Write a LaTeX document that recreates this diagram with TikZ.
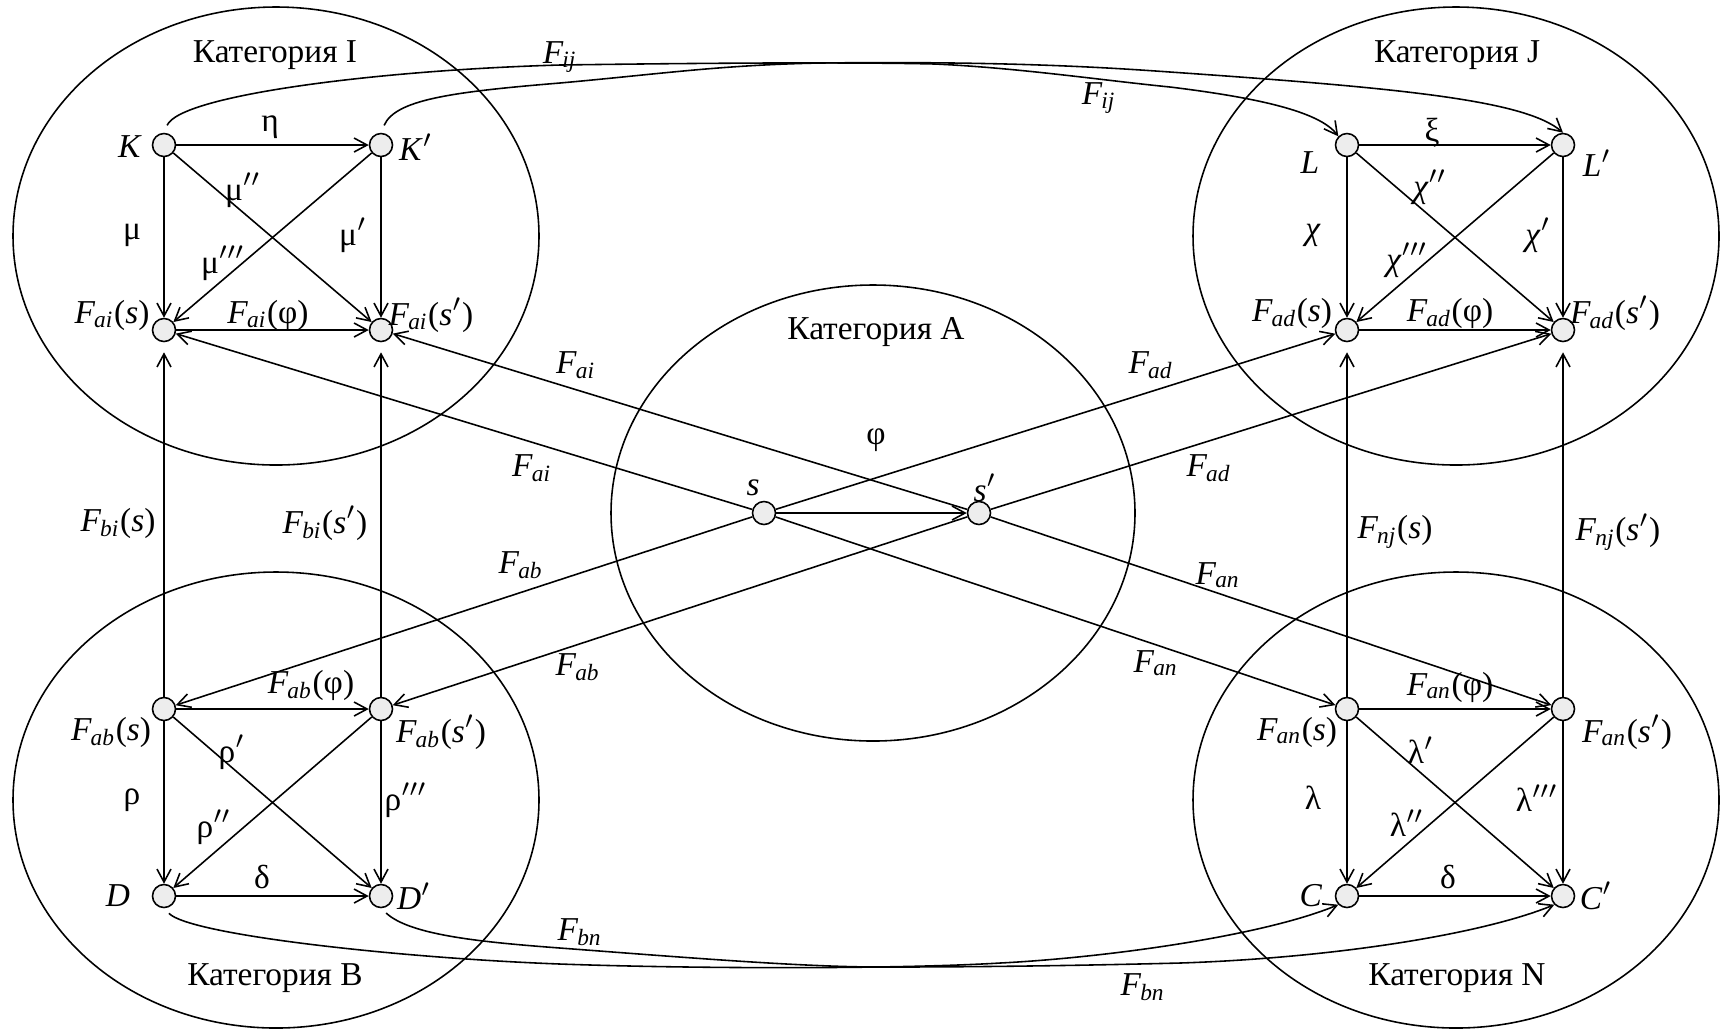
\documentclass[tikz,border=0pt]{standalone}
\usepackage{fontspec}
\setmainfont{Liberation Serif}
\usetikzlibrary{arrows.meta}
\newcommand{\Fsub}[1]{\textit{F}\kern-0.3pt\textsubscript{\textit{#1}}}

\begin{document}
\begin{tikzpicture}[x=0.1mm,y=-0.1mm,line width=0.45pt,
    font=\fontsize{9.5}{11}\selectfont,
    obj/.style={circle,draw,fill=black!7,minimum size=2.3mm,inner sep=0pt},
    lbl/.style={inner sep=0.5pt},
    arr/.style={-{Straight Barb[length=1.3mm,width=1.4mm]}},
    fun/.style={arr,shorten >=1mm}]
  \useasboundingbox (0,0) rectangle (1725,1031);
  % categories
  \draw (276,236) ellipse [x radius=263, y radius=229];
  \draw (1456,236) ellipse [x radius=263, y radius=229];
  \draw (873,513) ellipse [x radius=262, y radius=228];
  \draw (276,800) ellipse [x radius=263, y radius=228];
  \draw (1456,800) ellipse [x radius=263, y radius=228];
  \node (catI) at (275,55) {Категория I};
  \node (catJ) at (1457,55) {Категория J};
  \node (catA) at (876,332) {Категория A};
  \node (catB) at (275,978) {Категория B};
  \node (catN) at (1457,978) {Категория N};

  % category I
  \node[obj] (K) at (164,145) {};
  \node[obj] (Kp) at (381,145) {};
  \node[obj] (ais) at (164,330) {};
  \node[obj] (aisp) at (381,330) {};
  \draw[arr] (K) -- (Kp);
  \draw[arr] (K) -- (ais);
  \draw[arr] (Kp) -- (aisp);
  \draw[arr] (K) -- (aisp);
  \draw[arr] (Kp) -- (ais);
  \draw[arr] (ais) -- (aisp);
  \node[lbl] (tK) at (130,147) {\textit{K}};
  \node[lbl] (tKp) at (416,147) {\textit{K}$'$};
  \node[lbl] (tEta) at (270,127) {η};
  \node[lbl] (tMu2) at (243,190) {μ$''$};
  \node[lbl] (tMu) at (132,235) {μ};
  \node[lbl] (tMu1) at (353,235) {μ$'$};
  \node[lbl] (tMu3) at (223,263) {μ$'''$};
  \node[lbl] (tais) at (112,315) {\Fsub{ai}(\textit{s})};
  \node[lbl] (taiphi) at (268,315) {\Fsub{ai}(φ)};
  \node[lbl] (taisp) at (431,315) {\Fsub{ai}(\textit{s}$'$)};

  % category J
  \node[obj] (L) at (1347,145) {};
  \node[obj] (Lp) at (1563,145) {};
  \node[obj] (ads) at (1347,330) {};
  \node[obj] (adsp) at (1563,330) {};
  \draw[arr] (L) -- (Lp);
  \draw[arr] (L) -- (ads);
  \draw[arr] (Lp) -- (adsp);
  \draw[arr] (L) -- (adsp);
  \draw[arr] (Lp) -- (ads);
  \draw[arr] (ads) -- (adsp);
  \node[lbl] (tL) at (1310,163) {\textit{L}};
  \node[lbl] (tLp) at (1597,163) {\textit{L}$'$};
  \node[lbl] (tXi) at (1432,133) {ξ};
  \node[lbl] (tChi2) at (1430,187) {\textit{χ}$''$};
  \node[lbl] (tChi) at (1313,235) {\textit{χ}};
  \node[lbl] (tChi1) at (1538,235) {\textit{χ}$'$};
  \node[lbl] (tChi3) at (1407,260) {\textit{χ}$'''$};
  \node[lbl] (tads) at (1292,313) {\Fsub{ad}(\textit{s})};
  \node[lbl] (tadphi) at (1450,313) {\Fsub{ad}(φ)};
  \node[lbl] (tadsp) at (1615,313) {\Fsub{ad}(\textit{s}$'$)};

  % category A
  \node[obj] (s) at (764,513) {};
  \node[obj] (sp) at (979,513) {};
  \draw[arr] (s) -- (sp);
  \node[lbl] (ts) at (753,488) {\textit{s}};
  \node[lbl] (tsp) at (985,488) {\textit{s}$'$};
  \node[lbl] (tPhi) at (876,440) {φ};

  % category B
  \node[obj] (abs) at (164,709) {};
  \node[obj] (absp) at (381,709) {};
  \node[obj] (D) at (164,896) {};
  \node[obj] (Dp) at (381,896) {};
  \draw[arr] (abs) -- (absp);
  \draw[arr] (abs) -- (D);
  \draw[arr] (absp) -- (Dp);
  \draw[arr] (abs) -- (Dp);
  \draw[arr] (absp) -- (D);
  \draw[arr] (D) -- (Dp);
  \node[lbl] (tabphi) at (311,685) {\Fsub{ab}(φ)};
  \node[lbl] (tabs) at (111,732) {\Fsub{ab}(\textit{s})};
  \node[lbl] (tabsp) at (441,732) {\Fsub{ab}(\textit{s}$'$)};
  \node[lbl] (tRho1) at (232,752) {ρ$'$};
  \node[lbl] (tRho) at (132,800) {ρ};
  \node[lbl] (tRho3) at (406,800) {ρ$'''$};
  \node[lbl] (tRho2) at (214,827) {ρ$''$};
  \node[lbl] (tDeltaB) at (262,877) {δ};
  \node[lbl] (tD) at (118,896) {\textit{D}};
  \node[lbl] (tDp) at (414,896) {\textit{D}$'$};

  % category N
  \node[obj] (ans) at (1347,709) {};
  \node[obj] (ansp) at (1563,709) {};
  \node[obj] (C) at (1347,896) {};
  \node[obj] (Cp) at (1563,896) {};
  \draw[arr] (ans) -- (ansp);
  \draw[arr] (ans) -- (C);
  \draw[arr] (ansp) -- (Cp);
  \draw[arr] (ans) -- (Cp);
  \draw[arr] (ansp) -- (C);
  \draw[arr] (C) -- (Cp);
  \node[lbl] (tanphi) at (1450,687) {\Fsub{an}(φ)};
  \node[lbl] (tans) at (1297,732) {\Fsub{an}(\textit{s})};
  \node[lbl] (tansp) at (1627,732) {\Fsub{an}(\textit{s}$'$)};
  \node[lbl] (tLam1) at (1421,750) {λ$'$};
  \node[lbl] (tLam) at (1313,798) {λ};
  \node[lbl] (tLam3) at (1537,798) {λ$'''$};
  \node[lbl] (tLam2) at (1407,823) {λ$''$};
  \node[lbl] (tDeltaN) at (1448,877) {δ};
  \node[lbl] (tC) at (1311,896) {\textit{C}};
  \node[lbl] (tCp) at (1596,896) {\textit{C}$'$};

  % functors from A
  \draw[arr] (s) -- (ais);
  \draw[arr] (sp) -- (aisp);
  \draw[arr] (s) -- (ads);
  \draw[arr] (sp) -- (adsp);
  \draw[arr] (s) -- (abs);
  \draw[arr] (sp) -- (absp);
  \draw[arr] (s) -- (ans);
  \draw[arr] (sp) -- (ansp);
  \node[lbl] (tFai1) at (576,365) {\Fsub{ai}};
  \node[lbl] (tFai2) at (532,468) {\Fsub{ai}};
  \node[lbl] (tFad1) at (1151,365) {\Fsub{ad}};
  \node[lbl] (tFad2) at (1209,468) {\Fsub{ad}};
  \node[lbl] (tFab1) at (521,565) {\Fsub{ab}};
  \node[lbl] (tFab2) at (578,667) {\Fsub{ab}};
  \node[lbl] (tFan1) at (1218,575) {\Fsub{an}};
  \node[lbl] (tFan2) at (1156,663) {\Fsub{an}};

  % vertical functors
  \draw[fun] (abs) -- (ais);
  \draw[fun] (absp) -- (aisp);
  \draw[fun] (ans) -- (ads);
  \draw[fun] (ansp) -- (adsp);
  \node[lbl] (tbis) at (118,523) {\Fsub{bi}(\textit{s})};
  \node[lbl] (tbisp) at (325,523) {\Fsub{bi}(\textit{s}$'$)};
  \node[lbl] (tnjs) at (1395,532) {\Fsub{nj}(\textit{s})};
  \node[lbl] (tnjsp) at (1618,532) {\Fsub{nj}(\textit{s}$'$)};

  % F_ij and F_bn
  \draw[arr,shorten <=0.8mm] (K.north) .. controls (180,95) and (380,70) .. (560,65)
    .. controls (700,63) and (850,62) .. (935,64) .. controls (1020,68) and (1100,80) .. (1170,87)
    .. controls (1260,98) and (1320,112) .. (L.north west);
  \draw[arr,shorten <=0.8mm] (Kp.north) .. controls (395,100) and (450,92) .. (560,83)
    .. controls (660,74) and (720,65) .. (820,63) .. controls (1000,61) and (1100,67) .. (1170,72)
    .. controls (1400,88) and (1525,100) .. (Lp.north);
  \draw[arr,shorten <=0.7mm] (D.south) .. controls (190,935) and (400,958) .. (560,964)
    .. controls (700,969) and (900,969) .. (1000,963) .. controls (1100,958) and (1260,937) .. (C.south west);
  \draw[arr,shorten <=0.7mm] (Dp.south) .. controls (410,935) and (480,942) .. (560,948)
    .. controls (680,957) and (800,967) .. (880,967) .. controls (1000,967) and (1100,965) .. (1180,963)
    .. controls (1330,958) and (1480,935) .. (Cp.south west);
  \node[lbl] (tFij1) at (560,57) {\Fsub{ij}};
  \node[lbl] (tFij2) at (1099,98) {\Fsub{ij}};
  \node[lbl] (tFbn1) at (580,932) {\Fsub{bn}};
  \node[lbl] (tFbn2) at (1143,987) {\Fsub{bn}};
\end{tikzpicture}
\end{document}
